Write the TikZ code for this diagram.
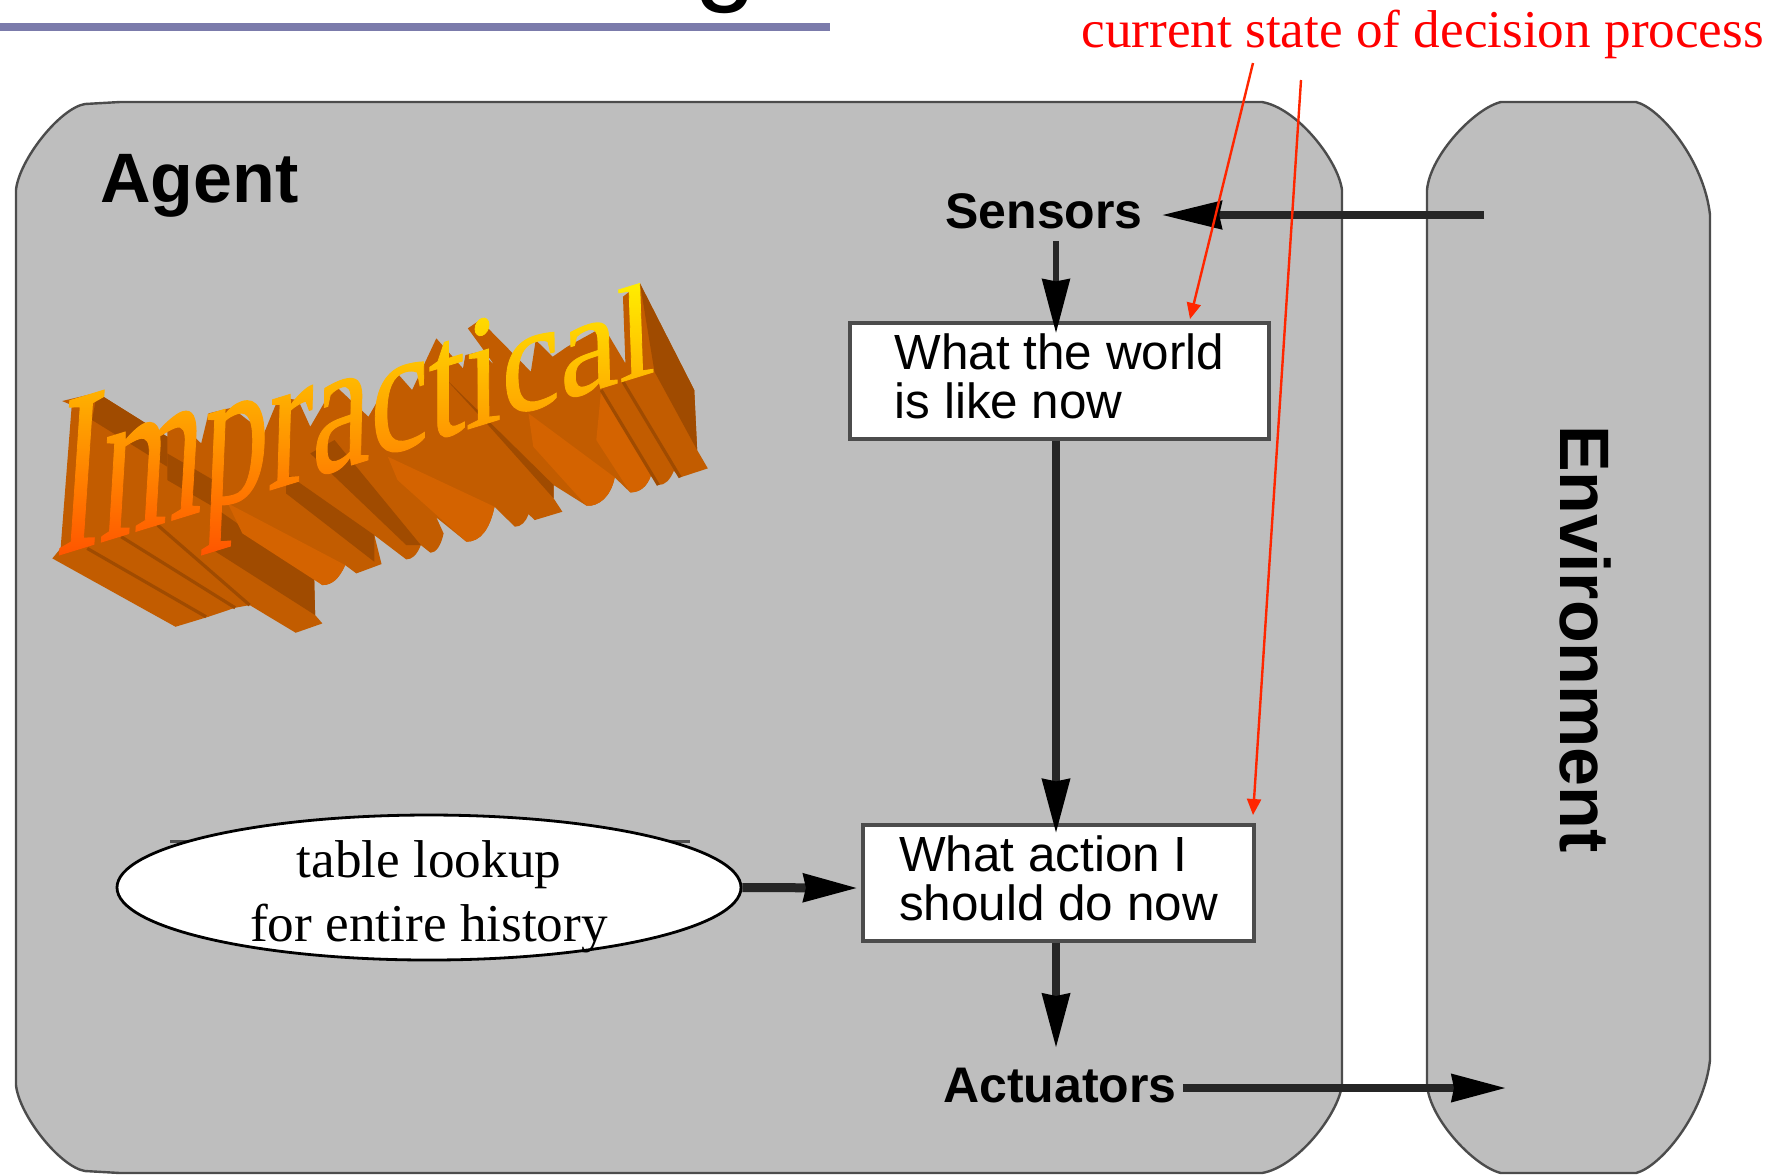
\documentclass[tikz,border=0pt]{standalone}
\usepackage{fontspec}
\setmainfont{Liberation Serif}
\newfontfamily\helv{Liberation Sans}
\newfontface\impface[FakeBold=0.6]{Liberation Serif}
\usetikzlibrary{arrows.meta}
\usetikzlibrary{shapes.geometric}
\usetikzlibrary{fadings}
\definecolor{panelgray}{HTML}{BEBEBE}
\definecolor{rulecolor}{HTML}{7B7BAB}
\definecolor{extbase}{HTML}{C25C00}
\definecolor{extdark}{HTML}{A04B00}
\definecolor{extlight}{HTML}{D46300}
\newcommand\boxstrut{\rule[-5pt]{0pt}{1pt}}
\tikzset{
    >={Stealth[length=27pt,width=13.5pt,inset=1pt,color=black]},
    panel/.style={fill=panelgray, draw=black!70, line width=1.2pt},
    bigword/.style={font=\helv\bfseries\fontsize{35}{35}\selectfont, inner sep=0pt},
    sigword/.style={font=\helv\bfseries\fontsize{25}{25}\selectfont, inner sep=0pt, anchor=base west},
    procbox/.style={draw=black!70, fill=white, line width=1.6pt, align=left, inner sep=0pt,
        minimum height=58pt, font=\helv\fontsize{24.7}{24.5}\selectfont},
    sigline/.style={->, draw=black!85, line width=3.7pt},
    redword/.style={font=\fontsize{26.6}{32}\selectfont, inner sep=0pt},
    redline/.style={-{Stealth[length=8pt,width=7pt,inset=0pt]}, draw=red!85!yellow, line width=1.2pt},
    impglyph/.style={transform shape, inner sep=0pt, anchor=base west, text=transparent!0,
        font=\impface\fontsize{10}{12}\selectfont},
    slabedge/.style={extdark, line width=1.6pt},
}
% the front of the word, letter by letter, smaller towards the right
\begin{tikzfadingfrompicture}[name=impfade,x=0.5pt,y=-0.5pt]
\path[fill=transparent!100] (30,260) rectangle (680,580);
\foreach \ltr/\u in {I/0,m/0.333,p/1.111,r/1.611,a/1.944,c/2.388,t/2.832,i/3.11,c/3.388,a/3.832,l/4.276} {
    \pgfmathsetmacro\len{(235-24*\u)/20}
    \pgfmathsetmacro\shr{(0.067-0.0235*\u)*\len}
    \begin{scope}[shift={(52+132*\u,557-40.6*\u)},cm={6.6,2.03,\shr,\len,(0,0)}]
    \node[impglyph] at (0,0) {\ltr};
    \end{scope}
}
\end{tikzfadingfrompicture}
\begin{document}
\begin{tikzpicture}[x=0.5pt,y=-0.5pt]
\useasboundingbox (0,0) rectangle (1786,1174);
% title rule and what is left of the title
\node[font=\helv\fontsize{56}{56}\selectfont, anchor=base, inner sep=0pt] (titleg) at (726,-10) {g};
\fill[rulecolor] (0,23) rectangle (830,31);
% panels
\draw[panel] (16,190) .. controls (19,160) and (60,108) .. (85,104) -- (120,102) -- (1262,102)
    .. controls (1297,108) and (1338,160) .. (1342,190) -- (1342,1085)
    .. controls (1338,1115) and (1297,1167) .. (1262,1173) -- (120,1173) -- (85,1171)
    .. controls (60,1167) and (19,1115) .. (16,1085) -- cycle;
\draw[panel] (1427,190) .. controls (1430,155) and (1475,108) .. (1501,102) -- (1636,102)
    .. controls (1660,108) and (1704,160) .. (1710,215) -- (1710,1060)
    .. controls (1704,1115) and (1660,1167) .. (1636,1173) -- (1501,1173)
    .. controls (1475,1167) and (1430,1120) .. (1427,1085) -- cycle;
\node[bigword, anchor=base west] (agent) at (100,202) {Agent};
\node[bigword, rotate=-90] (envir) at (1585,639) {Environment};
% extruded back of the word, in the coordinates of the crop
\begin{scope}[shift={(0,240)},x=0.2424pt,y=-0.1667pt]
\fill[extbase] (128,483) -- (200,458) -- (345,590) -- (345,545) -- (375,555) -- (415,610) -- (430,520)
    -- (478,503) -- (545,578) -- (575,472) -- (615,480) -- (640,560) -- (690,435) -- (760,530)
    -- (815,392) -- (850,450) -- (900,295) -- (955,385) -- (960,345) -- (990,335) -- (1020,375)
    -- (965,265) -- (990,240) -- (1095,395) -- (1105,300) -- (1140,350) -- (1170,320) -- (1245,260)
    -- (1290,370) -- (1285,170) -- (1320,130) -- (1432,450) -- (1438,630) -- (1460,685) -- (1403,712)
    -- (1390,692) .. controls (1382,720) and (1372,735) .. (1358,735) -- (1343,705)
    .. controls (1335,740) and (1320,757) .. (1300,757) -- (1268,712)
    .. controls (1260,770) and (1235,800) .. (1210,797) -- (1142,735) -- (1142,775)
    -- (1160,815) -- (1103,840) -- (1090,822) .. controls (1085,845) and (1075,860) .. (1062,860)
    -- (1020,800) .. controls (1010,870) and (990,905) .. (962,905) -- (900,832) -- (915,880)
    .. controls (910,915) and (900,938) .. (888,938) -- (868,915) .. controls (860,945) and (850,958)
    .. (838,958) -- (772,885) -- (787,972) -- (735,1000) -- (712,975) .. controls (700,1015) and (685,1035)
    .. (665,1035) -- (648,1015) -- (650,1125) -- (665,1150) -- (610,1178) -- (515,1095) -- (485,1103)
    -- (430,1130) -- (362,1160) -- (108,955) -- (125,925) -- (148,495) -- cycle;
\fill[extdark] (1320,130) -- (1432,450) -- (1438,630) -- (1350,395) -- cycle;
\fill[extdark] (440,800) -- (648,1010) -- (650,1125) -- (445,935) -- cycle;
\fill[extdark] (590,700) -- (772,885) -- (772,965) -- (590,760) -- cycle;
\fill[extdark] (915,410) -- (1142,735) -- (1142,775) -- (1010,560) -- cycle;
\fill[extdark] (200,458) -- (345,590) -- (345,680) -- (190,540) -- cycle;
\fill[extdark] (345,640) -- (440,720) -- (440,800) -- (345,720) -- cycle;
\fill[extdark] (690,600) -- (868,915) -- (838,915) -- (640,640) -- cycle;
\fill[extlight] (470,790) -- (712,975) .. controls (700,1015) and (685,1035) .. (665,1035) -- (500,880) -- cycle;
\fill[extlight] (800,650) -- (1020,800) .. controls (1010,870) and (990,905) .. (962,905) -- (820,720) -- cycle;
\fill[extlight] (1090,520) -- (1268,712) .. controls (1260,770) and (1235,800) .. (1210,797) -- (1100,620) -- cycle;
\fill[extlight] (1240,450) -- (1343,705) .. controls (1335,740) and (1320,757) .. (1300,757) -- (1230,600) -- cycle;
\draw[slabedge] (180,925) -- (425,1130);
\draw[slabedge] (250,890) -- (485,1103);
\draw[slabedge] (325,855) -- (515,1095);
\draw[slabedge] (1285,425) -- (1403,712);
\draw[slabedge] (1240,450) -- (1358,735);
\end{scope}
% front of the word
\path[path fading=impfade, fit fading=false, fading transform={shift={(355,420)}},
    bottom color=orange!60!red, top color=yellow!92!orange, shading angle=0]
    (40,270) rectangle (670,570);
% boxes and labels
\node[sigword] (sensors) at (945,228) {Sensors};
\node[procbox, minimum width=209.5pt] (world) at (1059.5,381) {What the world\\is like now\boxstrut};
\node[procbox, minimum width=195.5pt] (action) at (1058.5,883) {What action I\\should do now\boxstrut};
\node[sigword] (actuators) at (943,1102) {Actuators};
\coordinate (midline) at (1056,0);
\coordinate (envin) at (1484,215);
\coordinate (envout) at (1506,1088);
% the hidden top edge behind the ellipse
\draw[black!70, line width=1.5pt] (170,841) -- (690,841);
\node[ellipse, draw=black, fill=white, line width=1.4pt, minimum width=312pt, minimum height=72.5pt,
    inner sep=0pt] (lookup) at (429,887.5) {};
\node[font=\fontsize{26.6}{32}\selectfont, align=center, inner sep=0pt, anchor=base] (looktxt) at (429,941)
    {table lookup\\for entire history};
% arrows
\draw[sigline, line width=4.3pt, shorten >=9pt, >={Stealth[length=30pt,width=13.5pt,inset=1pt,color=black]}]
    (envin) -- (sensors.east |- envin);
\draw[sigline, shorten <=6pt, shorten >=-6pt, line width=3.2pt] (sensors.south -| midline) -- (world.north -| midline);
\draw[sigline] (world.south -| midline) -- ([yshift=-5pt]action.north -| midline);
\draw[sigline] (action.south -| midline) -- (1056,1048);
\draw[sigline, line width=4.5pt] (lookup.east) -- (858,888);
\draw[sigline, shorten <=3pt] (actuators.east |- envout) -- (envout);
% red note
\node[redword, text=red, anchor=base west] (statenote) at (1081,47) {current state of decision process};
\coordinate (worldfrom) at (1253,63);
\coordinate (worldtip) at (1190,319);
\coordinate (actionfrom) at (1301,80);
\coordinate (actiontip) at (1253,815);
\draw[redline] (worldfrom) -- (worldtip);
\draw[redline] (actionfrom) -- (actiontip);
\end{tikzpicture}
\end{document}
